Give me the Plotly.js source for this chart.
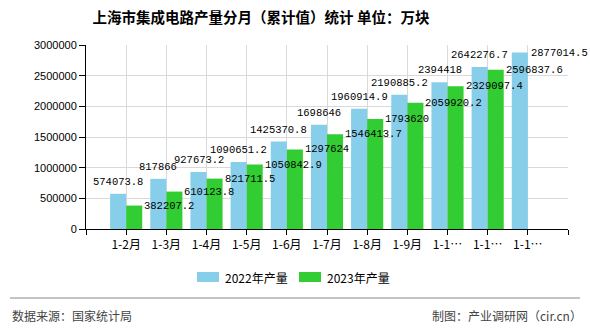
<!DOCTYPE html>
<html><head><meta charset="utf-8">
<script src="https://cdn.plot.ly/plotly-3.0.1.min.js"></script>
<style>html,body{margin:0;padding:0;background:#fff}#chart{width:590px;height:330px}</style>
</head><body><div id="chart"></div>
<script>
const categories = ["1-2月","1-3月","1-4月","1-5月","1-6月","1-7月","1-8月","1-9月","1-10月","1-11月","1-12月"];
const tickLabels = ["1-2月","1-3月","1-4月","1-5月","1-6月","1-7月","1-8月","1-9月","1-1…","1-1…","1-1…"];
const values2022 = [574073.8, 817866, 927673.2, 1090651.2, 1425370.8, 1698646, 1960914.9, 2190885.2, 2394418, 2642276.7, 2877014.5];
const values2023 = [382207.2, 610123.8, 821711.5, 1050842.9, 1297624, 1546413.7, 1793620, 2059920.2, 2329097.4, 2596837.6, null];
const name2022 = "2022年产量";
const name2023 = "2023年产量";
const color2022 = "#87CEEB";
const color2023 = "#32CD32";

const labelFont = {family: "Liberation Mono, DejaVu Sans Mono, monospace", size: 10.5, color: "#000"};
const cjk = "Noto Sans CJK SC, sans-serif";
const tickvals = [-1].concat(categories.map((c,i)=>i)).concat([categories.length]);
const ticktext = [""].concat(tickLabels).concat([""]);

const traces = [
  {type:"bar", name:name2022, x:categories, y:values2022, marker:{color:color2022}, hoverinfo:"skip", showlegend:false},
  {type:"bar", name:name2023, x:categories, y:values2023, marker:{color:color2023}, hoverinfo:"skip", showlegend:false}
];

const annotations = [];
categories.forEach((c,i)=>{
  const v22 = values2022[i], v23 = values2023[i];
  if (v22 != null) {
    if (v23 != null) {
      annotations.push({x:c, y:v22, xref:"x", yref:"y", text:String(v22), showarrow:false,
        xanchor:"center", yanchor:"bottom", xshift:-8, yshift:4, font:labelFont});
    } else {
      annotations.push({x:c, y:v22, xref:"x", yref:"y", text:String(v22), showarrow:false,
        xanchor:"left", yanchor:"middle", xshift:1, font:labelFont});
    }
  }
  if (v23 != null) {
    annotations.push({x:c, y:v23, xref:"x", yref:"y", text:String(v23), showarrow:false,
      xanchor:"left", yanchor:"middle", xshift:16, font:labelFont});
  }
});

// footer
const H = 184, W = 482;
annotations.push({xref:"paper", yref:"paper", x:-76/W, y:-(315-229)/H, xanchor:"left", yanchor:"middle", showarrow:false,
  text:"数据来源：国家统计局", font:{family:cjk, size:12, color:"#444"}});
annotations.push({xref:"paper", yref:"paper", x:(584-86)/W, y:-(315-229)/H, xanchor:"right", yanchor:"middle", showarrow:false,
  text:"制图：产业调研网（cir.cn）", font:{family:cjk, size:12, color:"#444"}});
// legend (manual)
const legY = -(277-229)/H;
annotations.push({xref:"paper", yref:"paper", x:(223-86)/W, y:legY, xanchor:"left", yanchor:"middle", showarrow:false,
  text:name2022, font:{family:cjk, size:12, color:"#000"}});
annotations.push({xref:"paper", yref:"paper", x:(325-86)/W, y:legY, xanchor:"left", yanchor:"middle", showarrow:false,
  text:name2023, font:{family:cjk, size:12, color:"#000"}});

const shapes = [
  {type:"line", xref:"paper", yref:"paper", x0:-76/W, x1:(580-86)/W, y0:-(298-229)/H, y1:-(298-229)/H,
   line:{color:"#888", width:1}},
  {type:"rect", xref:"paper", yref:"paper", x0:(197-86)/W, x1:(219-86)/W, y0:-(282-229)/H, y1:-(272-229)/H,
   line:{width:0}, fillcolor:color2022},
  {type:"rect", xref:"paper", yref:"paper", x0:(299-86)/W, x1:(321-86)/W, y0:-(282-229)/H, y1:-(272-229)/H,
   line:{width:0}, fillcolor:color2023}
];

const layout = {
  width:590, height:330,
  margin:{l:86, r:22, t:45, b:101},
  paper_bgcolor:"#fff", plot_bgcolor:"#fff",
  font:{family:cjk, size:12, color:"#000"},
  title:{text:"上海市集成电路产量分月（累计值）统计 单位：万块", xref:"paper", x:(261-86)/W, xanchor:"center",
         yref:"container", y:(330-18)/330, yanchor:"middle",
         font:{family:cjk, size:14.5, color:"#000", weight:"bold"}},
  barmode:"group", bargap:0.2, bargroupgap:0,
  xaxis:{type:"category", range:[-1, categories.length], tickmode:"array", tickvals:tickvals, ticktext:ticktext,
         showline:true, linecolor:"#000", linewidth:1, ticks:"outside", ticklen:5, tickcolor:"#000",
         showgrid:true, gridcolor:"#d9d9d9", gridwidth:1,
         tickfont:{family:cjk, size:12, color:"#000"}, zeroline:false},
  yaxis:{range:[0,3000000], dtick:500000, tickformat:"d", showline:true, linecolor:"#000", linewidth:1,
         ticks:"outside", ticklen:6, tickcolor:"#000", showgrid:true, gridcolor:"#d9d9d9", zeroline:false,
         tickfont:{family:"Liberation Sans, Arial, sans-serif", size:11, color:"#000"}},
  showlegend:false,
  shapes:shapes,
  annotations:annotations
};
Plotly.newPlot("chart", traces, layout, {displayModeBar:false, staticPlot:true});
</script></body></html>
